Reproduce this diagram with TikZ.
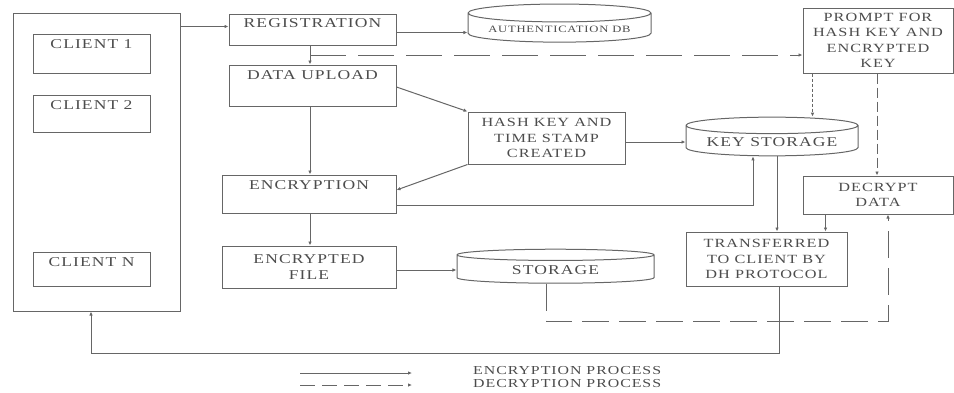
\documentclass[tikz,border=0pt]{standalone}
\usepackage{fontspec}
\setmainfont{Liberation Serif}[FakeStretch=1.3,LetterSpace=8]
\usetikzlibrary{arrows.meta, shapes.geometric, calc}
\definecolor{linegray}{gray}{0.4}
\definecolor{textgray}{gray}{0.3}
\tikzset{
	box/.style={draw=linegray, line width=1pt, text=textgray, align=center, font=\fontsize{12.5}{15.5}\selectfont}
}
\tikzset{
	toplbl/.style={text=textgray, font=\fontsize{13.5}{15}\selectfont, anchor=north, inner sep=5.5pt},
	toptext/.style={label={[toplbl]north:#1}},
	dbase/.style={box, cylinder, shape border rotate=90, aspect=0.12, font=\fontsize{13.5}{15}\selectfont},
	encline/.style={draw=linegray, line width=1pt, -{Latex[length=4pt,width=3.5pt]}},
	decline/.style={encline, dash pattern=on 27pt off 10pt}
}

\begin{document}
\begin{tikzpicture}[x=1pt, y=-1pt]
	\useasboundingbox (0,0) rectangle (954,392);
	% client side
	\node[box, minimum width=167pt, minimum height=298pt] (clients) at (96.5,162) {};
	\node[box, minimum width=117pt, minimum height=39pt, toptext={CLIENT 1}] (c1) at (91.5,53.5) {};
	\node[box, minimum width=117pt, minimum height=37pt, toptext={CLIENT 2}] (c2) at (91.5,113.5) {};
	\node[box, minimum width=117pt, minimum height=34pt, toptext={CLIENT N}] (cn) at (91.5,269) {};
	% encryption path
	\node[box, minimum width=167pt, minimum height=31pt, label={[toplbl, inner sep=4.5pt]north:REGISTRATION}] (reg) at (312.5,29.5) {};
	\node[dbase, minimum width=183pt, minimum height=32pt, font=\fontsize{9.7}{11}\selectfont] (auth) at (559.5,29) {AUTHENTICATION DB};
	\node[box, minimum width=167pt, minimum height=41pt, toptext={DATA UPLOAD}] (upload) at (312.5,85.5) {};
	\node[box, minimum width=157pt, minimum height=52pt] (hash) at (546.5,138) {HASH KEY AND\\TIME STAMP\\CREATED};
	\node[dbase, minimum width=172pt, minimum height=32pt] (keys) at (772,142) {KEY STORAGE};
	\node[box, minimum width=174pt, minimum height=38pt, toptext={ENCRYPTION}] (enc) at (309,194) {};
	\node[box, minimum width=174pt, minimum height=42pt, font=\fontsize{13.5}{16}\selectfont] (encfile) at (309,267) {ENCRYPTED\\FILE};
	\node[dbase, minimum width=197pt, minimum height=34pt] (storage) at (555.5,270) {STORAGE};
	% decryption path
	\node[box, minimum width=150pt, minimum height=65pt] (prompt) at (878,40.5) {PROMPT FOR\\HASH KEY AND\\ENCRYPTED\\KEY};
	\node[box, minimum width=150pt, minimum height=38pt] (decrypt) at (878,195) {DECRYPT\\DATA};
	\node[box, minimum width=161pt, minimum height=54pt] (trans) at (766.5,259) {TRANSFERRED\\TO CLIENT BY\\DH PROTOCOL};

	% encryption arrows
	\draw[encline] ([yshift=3pt]reg.west -| clients.east) -- ([yshift=3pt]reg.west);
	\draw[encline] ([yshift=-3pt]reg.east) -- ([yshift=-3pt]reg.east -| auth.west);
	\draw[encline] ([xshift=-2.5pt]reg.south) -- ([xshift=-2.5pt]upload.north);
	\draw[encline] ([yshift=-1.5pt]upload.east) -- (hash.north west);
	\draw[encline] ([xshift=-2.5pt]upload.south) -- ([xshift=-2.5pt]upload.south |- enc.north);
	\draw[encline] (hash.south west) -- ([yshift=4pt]enc.east);
	\draw[encline] (keys.west -| hash.east) -- (keys.west);
	\draw[encline] ([yshift=-11pt]enc.east) -| ([xshift=-19pt]keys.south);
	\draw[encline] ([xshift=1pt]enc.south) -- ([xshift=1pt]enc.south |- encfile.north);
	\draw[encline] (encfile.east |- storage.west) -- (storage.west);
	\draw[encline] ([xshift=5pt]keys.south) -- ([xshift=5pt]keys.south |- trans.north);
	\draw[encline] ([xshift=23pt]decrypt.south west) -- ([xshift=23pt]decrypt.south west |- trans.north);
	\coordinate (back) at ($(trans.south)+(12.5,67)$);
	\draw[encline] ([xshift=12.5pt]trans.south) -- (back) -| ([xshift=-5.5pt]clients.south);

	% decryption arrows
	\coordinate (split) at ($(reg.south)!0.5!(upload.north)+(-2.5,0)$);
	\draw[decline, dash pattern=on 36pt off 12pt] (split) -- (split -| prompt.west);
	\draw[decline, dash pattern=on 3pt off 2pt] ([xshift=10pt]prompt.south west) -- ([xshift=10pt]prompt.south west |- keys.north);
	\draw[decline, dash pattern=on 10pt off 4pt] ([xshift=-1pt]prompt.south) -- ([xshift=-1pt]decrypt.north);
	\coordinate (loop) at ($(storage.south)+(-9.5,38)$);
	\draw[decline] ([xshift=-9.5pt]storage.south) -- (loop) -| ([xshift=10pt]decrypt.south);

	% legend
	\coordinate (la) at (300,373);
	\coordinate (lb) at (412,373);
	\coordinate (lc) at (300,385);
	\coordinate (ld) at (412,385);
	\draw[encline] (la) -- (lb);
	\draw[decline, dash pattern=on 15pt off 7pt] (lc) -- (ld);
	\node[anchor=west, text=textgray, font=\fontsize{12.2}{12}\selectfont, inner sep=0pt] (lenc) at (473,371) {ENCRYPTION PROCESS};
	\node[anchor=west, text=textgray, font=\fontsize{12.2}{12}\selectfont, inner sep=0pt] (ldec) at (473,384) {DECRYPTION PROCESS};
\end{tikzpicture}
\end{document}
